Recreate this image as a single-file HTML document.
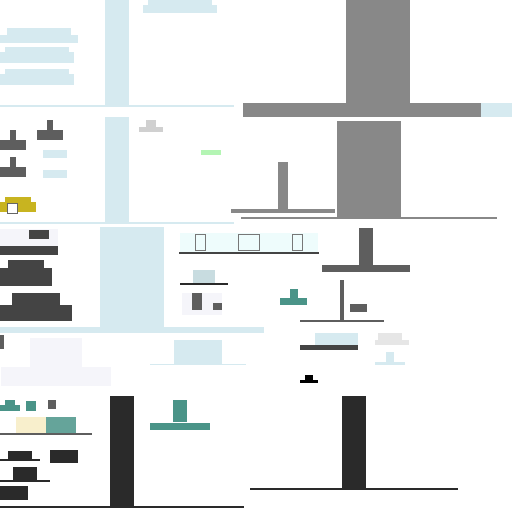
<!DOCTYPE html>
<html><head><meta charset="utf-8"><style>
html,body{margin:0;padding:0;background:#fff}
#s{position:relative;width:512px;height:512px;overflow:hidden;background:#fff}
#s div{position:absolute}
.b{background:#d6eaf0}.g{background:#888}.d{background:#444}.dk{background:#2a2a2a}.m{background:#5e5e5e}.l{background:#f5f5fa}.t{background:#4a9488}
</style></head><body>
<div id="s">
<!-- top-left -->
<div class="b" style="left:105px;top:0;width:24px;height:107px"></div>
<div class="b" style="left:7px;top:28px;width:64px;height:8px"></div>
<div class="b" style="left:0;top:35px;width:78px;height:8px"></div>
<div class="b" style="left:5px;top:47px;width:64px;height:6px"></div>
<div class="b" style="left:0;top:52px;width:74px;height:11px"></div>
<div class="b" style="left:5px;top:69px;width:64px;height:6px"></div>
<div class="b" style="left:0;top:74px;width:74px;height:11px"></div>
<div class="b" style="left:148px;top:0;width:64px;height:5px"></div>
<div class="b" style="left:143px;top:5px;width:74px;height:8px"></div>
<div class="b" style="left:0;top:105px;width:234px;height:2px"></div>
<div class="b" style="left:105px;top:117px;width:24px;height:106px"></div>
<div class="b" style="left:0;top:222px;width:234px;height:2px"></div>
<div class="m" style="left:10px;top:130px;width:6px;height:10px"></div>
<div class="m" style="left:0;top:140px;width:26px;height:10px"></div>
<div class="m" style="left:47px;top:120px;width:6px;height:10px"></div>
<div class="m" style="left:37px;top:130px;width:26px;height:10px"></div>
<div class="m" style="left:10px;top:157px;width:6px;height:10px"></div>
<div class="m" style="left:0;top:167px;width:26px;height:10px"></div>
<div class="b" style="left:43px;top:150px;width:24px;height:8px"></div>
<div class="b" style="left:43px;top:170px;width:24px;height:8px"></div>
<div style="left:5px;top:197px;width:26px;height:15px;background:#c8b420"></div>
<div style="left:0;top:202px;width:36px;height:10px;background:#c8b420"></div>
<div style="left:7px;top:203px;width:9px;height:9px;background:#fff;border:1px solid #666"></div>
<div style="left:146px;top:120px;width:10px;height:7px;background:#d0d0d0"></div>
<div style="left:139px;top:127px;width:24px;height:5px;background:#d0d0d0"></div>
<div style="left:201px;top:150px;width:20px;height:5px;background:#b4f5b4"></div>
<!-- top-right -->
<div class="g" style="left:346px;top:0;width:64px;height:103px"></div>
<div class="g" style="left:243px;top:103px;width:238px;height:14px"></div>
<div class="b" style="left:481px;top:103px;width:31px;height:14px"></div>
<div class="g" style="left:337px;top:121px;width:64px;height:96px"></div>
<div class="g" style="left:241px;top:217px;width:256px;height:2px"></div>
<div class="g" style="left:278px;top:162px;width:10px;height:49px"></div>
<div class="g" style="left:231px;top:209px;width:104px;height:4px"></div>
<!-- middle -->
<div class="l" style="left:0;top:229px;width:58px;height:17px"></div>
<div class="d" style="left:29px;top:230px;width:20px;height:9px"></div>
<div class="d" style="left:0;top:246px;width:58px;height:9px"></div>
<div class="b" style="left:100px;top:227px;width:64px;height:100px"></div>
<div class="b" style="left:0;top:327px;width:264px;height:6px"></div>
<div class="d" style="left:8px;top:260px;width:36px;height:8px"></div>
<div class="d" style="left:0;top:268px;width:52px;height:18px"></div>
<div class="d" style="left:12px;top:293px;width:48px;height:12px"></div>
<div class="d" style="left:0;top:305px;width:72px;height:16px"></div>
<div style="left:180px;top:233px;width:138px;height:19px;background:#eefcfc"></div>
<div style="left:195px;top:234px;width:9px;height:15px;border:1px solid #777"></div>
<div style="left:238px;top:234px;width:20px;height:15px;border:1px solid #777"></div>
<div style="left:292px;top:234px;width:9px;height:15px;border:1px solid #777"></div>
<div class="d" style="left:179px;top:252px;width:140px;height:2px"></div>
<div style="left:193px;top:270px;width:22px;height:13px;background:#c8dce0"></div>
<div class="dk" style="left:180px;top:283px;width:48px;height:2px"></div>
<div class="l" style="left:182px;top:293px;width:40px;height:22px"></div>
<div class="m" style="left:192px;top:293px;width:10px;height:17px"></div>
<div class="m" style="left:213px;top:303px;width:9px;height:7px"></div>
<div class="m" style="left:359px;top:228px;width:14px;height:37px"></div>
<div class="m" style="left:322px;top:265px;width:88px;height:7px"></div>
<div class="t" style="left:280px;top:298px;width:27px;height:7px"></div>
<div class="t" style="left:290px;top:289px;width:8px;height:9px"></div>
<div class="m" style="left:340px;top:280px;width:4px;height:40px"></div>
<div class="m" style="left:300px;top:320px;width:84px;height:2px"></div>
<div class="m" style="left:350px;top:304px;width:17px;height:8px"></div>
<div class="b" style="left:315px;top:333px;width:43px;height:12px"></div>
<div class="d" style="left:300px;top:345px;width:58px;height:5px"></div>
<div style="left:378px;top:333px;width:24px;height:7px;background:#e6e6e6"></div>
<div style="left:375px;top:340px;width:34px;height:5px;background:#e6e6e6"></div>
<div class="b" style="left:386px;top:352px;width:8px;height:11px"></div>
<div class="b" style="left:375px;top:362px;width:30px;height:3px"></div>
<div style="left:305px;top:375px;width:8px;height:5px;background:#000"></div>
<div style="left:300px;top:380px;width:18px;height:3px;background:#000"></div>
<!-- bottom -->
<div class="m" style="left:0;top:335px;width:4px;height:14px"></div>
<div class="l" style="left:30px;top:338px;width:52px;height:29px"></div>
<div class="l" style="left:1px;top:367px;width:110px;height:19px"></div>
<div class="b" style="left:174px;top:340px;width:48px;height:24px"></div>
<div class="b" style="left:150px;top:364px;width:96px;height:1px"></div>
<div class="t" style="left:0;top:405px;width:20px;height:6px"></div>
<div class="t" style="left:5px;top:400px;width:10px;height:5px"></div>
<div class="t" style="left:26px;top:401px;width:10px;height:10px"></div>
<div class="m" style="left:48px;top:400px;width:8px;height:9px"></div>
<div style="left:16px;top:417px;width:30px;height:16px;background:#f8efcc"></div>
<div class="t" style="left:46px;top:417px;width:30px;height:16px;opacity:.85"></div>
<div class="m" style="left:0;top:433px;width:92px;height:2px"></div>
<div class="dk" style="left:8px;top:451px;width:24px;height:8px"></div>
<div class="dk" style="left:0;top:459px;width:40px;height:2px"></div>
<div class="dk" style="left:50px;top:450px;width:28px;height:13px"></div>
<div class="dk" style="left:13px;top:467px;width:24px;height:13px"></div>
<div class="dk" style="left:0;top:480px;width:50px;height:2px"></div>
<div class="dk" style="left:0;top:486px;width:28px;height:14px"></div>
<div class="dk" style="left:110px;top:396px;width:24px;height:110px"></div>
<div class="dk" style="left:0;top:506px;width:244px;height:2px"></div>
<div class="t" style="left:173px;top:400px;width:14px;height:22px"></div>
<div class="t" style="left:150px;top:423px;width:60px;height:7px"></div>
<div class="dk" style="left:342px;top:396px;width:24px;height:92px"></div>
<div class="dk" style="left:250px;top:488px;width:208px;height:2px"></div>
</div>
</body></html>
